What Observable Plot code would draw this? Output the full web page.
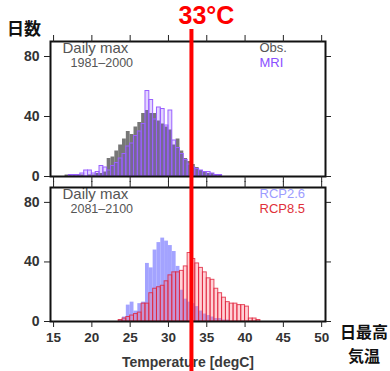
<!DOCTYPE html>
<html><head><meta charset="utf-8">
<script src="https://cdn.jsdelivr.net/npm/d3@7"></script>
<script src="https://cdn.jsdelivr.net/npm/@observablehq/plot@0.6"></script>
<style>
body{margin:0;background:#fff;}
#wrap{position:relative;width:390px;height:371px;overflow:hidden;}
#wrap svg{position:absolute;left:0;top:0;background:transparent !important;}
.jp{position:absolute;font-family:"Noto Sans CJK JP";font-weight:bold;color:#111;font-size:17px;line-height:18px;}
.jp2{font-size:16px;line-height:17px;}
</style></head><body><div id="wrap">
<div class="jp" style="left:7px;top:19px;">日数</div>
<div class="jp jp2" style="left:336px;top:323px;width:56px;text-align:center;">日最高</div>
<div class="jp jp2" style="left:336px;top:347px;width:56px;text-align:center;">気温</div>
</div>
<script>
// bin left edges (°C), bin width 0.5
const binStart = [16,16.5,17,17.5,18,18.5,19,19.5,20,20.5,21,21.5,
  22,22.5,23,23.5,24,24.5,25,25.5,26,26.5,27,27.5,
  28,28.5,29,29.5,30,30.5,31,31.5,32,32.5,33,33.5,
  34,34.5,35,35.5,36,36.5,37,37.5,38,38.5,39,39.5,
  40,40.5,41,41.5,42];
const binWidth = 0.5;
const obs   = [0,1,1,1,1,1,0,1,1,2,2,3, 12,13,17,21,25,30,28,33,36,42,44,42, 42,37,35,33,31,21,25,17,12,10,8,6, 4,3,2,2,1,1,0,0,0,0,0,0, 0,0,0,0,0];
const mri   = [0,0,1,1,1,2,4,4,2,3,7,6, 4,7,9,12,15,20,22,27,30,35,57,51, 38,46,45,34,44,24,19,15,11,8,6,5, 4,3,3,2,1,1,0,0,0,0,0,0, 0,0,0,0,0];
const rcp26 = [0,0,0,0,0,0,0,0,0,0,0,0, 0,0,0,1,3,11,13,7,12,13,39,36, 48,53,56,54,51,47,37,21,15,13,12,10, 7,5,4,3,2,2,1,1,0,0,0,0, 0,0,0,0,0];
const rcp85 = [0,0,0,0,0,0,0,0,0,0,0,0, 0,0,0,1,2,3,4,5,6,12,12,19, 22,23,24,27,31,33,33,34,37,46,42,39, 36,33,29,28,22,19,16,13,12,12,11,11, 10,2,2,1,0];
const xTicks = [15,20,25,30,35,40,45,50];
const yTicks = [0,40,80];
const threshold = [33];
const xLabel = "Temperature [degC]";
const topTitle = ["Daily max", "1981\u20132000"];
const botTitle = ["Daily max", "2081\u20132100"];
const topLegend = [["Obs.", "#555"], ["MRI", "#8a4fff"]];
const botLegend = [["RCP2.6", "#9c9cff"], ["RCP8.5", "#e0303a"]];

const rows = binStart.map((t, i) => ({x1: t, x2: t + binWidth, obs: obs[i], mri: mri[i], rcp26: rcp26[i], rcp85: rcp85[i]}));

const font = "'Liberation Sans', Arial, Helvetica, sans-serif";
const common = {
  width: 390, height: 371, marginLeft: 50, marginRight: 65,
  x: {domain: [14.6, 50.5]},
  y: {domain: [0, 90]},
  style: {fontFamily: font, fontSize: "14px", color: "#222", background: "transparent", overflow: "visible"}
};

function axes(bottomLabels) {
  return [
    Plot.frame({stroke: "#111", strokeWidth: 2}),
    Plot.axisY(yTicks, {anchor: "left", tickSize: 6, tickPadding: 5, label: null, fontSize: 14, fontWeight: "bold", fill: "#333"}),
    Plot.axisY(yTicks, {anchor: "right", tickSize: 5, tickFormat: () => "", label: null}),
    Plot.axisX(xTicks, {anchor: "top", tickSize: 7, tickFormat: () => "", label: null}),
    bottomLabels
      ? Plot.axisX(xTicks, {anchor: "bottom", tickSize: 6, tickPadding: 5, label: null, fontSize: 13.5, fontWeight: "bold", fill: "#333"})
      : Plot.axisX(xTicks, {anchor: "bottom", tickSize: 6, tickFormat: () => "", label: null})
  ];
}

function titles(t, legend) {
  return [
    Plot.text([t[0]], {text: d => d, frameAnchor: "top-left", dx: 12, dy: 1, lineAnchor: "top", textAnchor: "start", fontSize: 15, fill: "#555"}),
    Plot.text([t[1]], {text: d => d, frameAnchor: "top-left", dx: 20, dy: 17, lineAnchor: "top", textAnchor: "start", fontSize: 12.5, fill: "#555"}),
    Plot.text([legend[0]], {text: d => d[0], fill: d => d[1], frameAnchor: "top-right", dx: -66, dy: 1, lineAnchor: "top", textAnchor: "start", fontSize: 13}),
    Plot.text([legend[1]], {text: d => d[0], fill: d => d[1], frameAnchor: "top-right", dx: -66, dy: 16, lineAnchor: "top", textAnchor: "start", fontSize: 13})
  ];
}

const topPlot = Plot.plot({
  ...common, marginTop: 41, marginBottom: 195,
  marks: [
    Plot.rectY(rows, {x1: "x1", x2: "x2", y: "obs", fill: "#707070", fillOpacity: 0.95, inset: 0}),
    Plot.rectY(rows, {x1: "x1", x2: "x2", y: "mri", fill: "#7a3cff", fillOpacity: 0.22, stroke: "#9a60ff", strokeWidth: 1, inset: 0}),
    ...titles(topTitle, topLegend),
    ...axes(false)
  ]
});

const botPlot = Plot.plot({
  ...common, marginTop: 187, marginBottom: 50,
  marks: [
    Plot.rectY(rows, {x1: "x1", x2: "x2", y: "rcp26", fill: "#8c8cff", fillOpacity: 0.8, inset: 0}),
    Plot.rectY(rows, {x1: "x1", x2: "x2", y: "rcp85", fill: "#ff7a8a", fillOpacity: 0.35, stroke: "#e0203a", strokeWidth: 1, strokeOpacity: 0.8, inset: 0}),
    ...titles(botTitle, botLegend),
    ...axes(true),
    Plot.text([xLabel], {text: d => d, frameAnchor: "bottom", dy: 45, lineAnchor: "bottom", fontSize: 14, fontWeight: "bold", fill: "#3a3a3a"})
  ]
});

const overlay = Plot.plot({
  width: 390, height: 371, marginLeft: 50, marginRight: 65, marginTop: 29, marginBottom: 0,
  x: {domain: [14.6, 50.5], axis: null},
  style: {background: "transparent", overflow: "visible", fontFamily: font},
  marks: [
    Plot.ruleX(threshold, {stroke: "#ff0000", strokeWidth: 4}),
    Plot.text(threshold, {x: d => d, text: d => d + "°C", frameAnchor: "top", lineAnchor: "bottom", dy: -6, dx: 15, fill: "#ff0000", fontSize: 25, fontWeight: "bold"})
  ]
});

const wrap = document.getElementById("wrap");
wrap.prepend(topPlot, botPlot);
wrap.append(overlay);
</script>
</body></html>
